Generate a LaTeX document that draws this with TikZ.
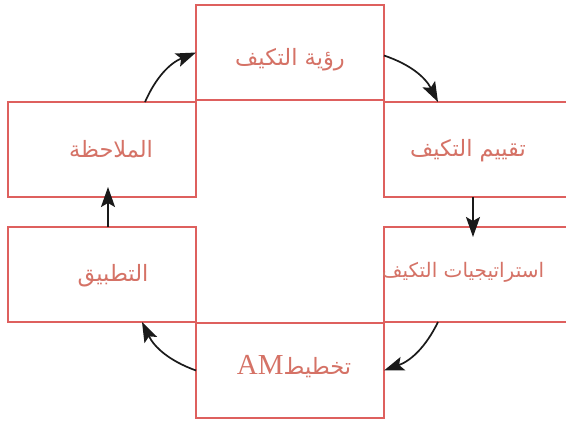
\documentclass[tikz,border=0pt]{standalone}
\usepackage{fontspec}
\setmainfont{Liberation Serif}
\newfontfamily\arabicfont[Script=Arabic]{DejaVu Sans}
\TeXXeTstate=1
\usetikzlibrary{arrows.meta}
\definecolor{boxred}{RGB}{222,96,94}
\definecolor{txtred}{RGB}{213,114,102}
\definecolor{arrblack}{RGB}{26,26,26}
\begin{document}
\begin{tikzpicture}[x=1pt,y=-1pt,
  box/.style={draw=boxred,line width=1.8pt,minimum width=188pt,minimum height=95pt,inner sep=0pt,outer sep=0pt},
  lbl/.style={text=txtred,anchor=base,inner sep=0pt,font=\arabicfont\fontsize{22.5}{26}\selectfont},
  arr/.style={draw=arrblack,line width=1.7pt,-{Stealth[length=20pt,width=14pt,inset=4pt]}}]
\clip (0,0) rectangle (566,423);
\fill[white] (0,0) rectangle (566,423);
% boxes
\node[box] (top) at (290,52.5) {};
\node[box] (lm) at (102,149.5) {};
\node[box] (rm) at (478,149.5) {};
\node[box] (ll) at (102,274.5) {};
\node[box] (rl) at (478,274.5) {};
\node[box] (bot) at (290,370.5) {};
% labels
\node[lbl] (ttop) at (290,65) {\beginR رؤية التكيف\endR};
\node[lbl] (tlm) at (111,157) {\beginR الملاحظة\endR};
\node[lbl] (trm) at (468,156) {\beginR تقييم التكيف\endR};
\node[lbl] (tll) at (113,281) {\beginR التطبيق\endR};
\node[lbl,font=\arabicfont\fontsize{20}{24}\selectfont] (trl) at (463,277) {\beginR استراتيجيات التكيف\endR};
\node[lbl] (tbot) at (294,374) {{\rmfamily\fontsize{29}{32}\selectfont AM}\beginR تخطيط\endR};
% connectors
\draw[arr] ([xshift=43pt]lm.north) to[bend left=22] (top.west);
\draw[arr] ([yshift=-3pt]top.east) to[bend left=22] ([xshift=-40pt]rm.north);
\draw[arr] ([xshift=-5pt]rm.south) -- ([xshift=-5pt,yshift=-10pt]rl.north);
\draw[arr] ([xshift=-40pt]rl.south) to[bend left=22] (bot.east);
\draw[arr] (bot.west) to[bend left=22] ([xshift=40pt]ll.south);
\draw[arr] ([xshift=6pt]ll.north) -- ([xshift=6pt,yshift=10pt]lm.south);
\end{tikzpicture}
\end{document}
